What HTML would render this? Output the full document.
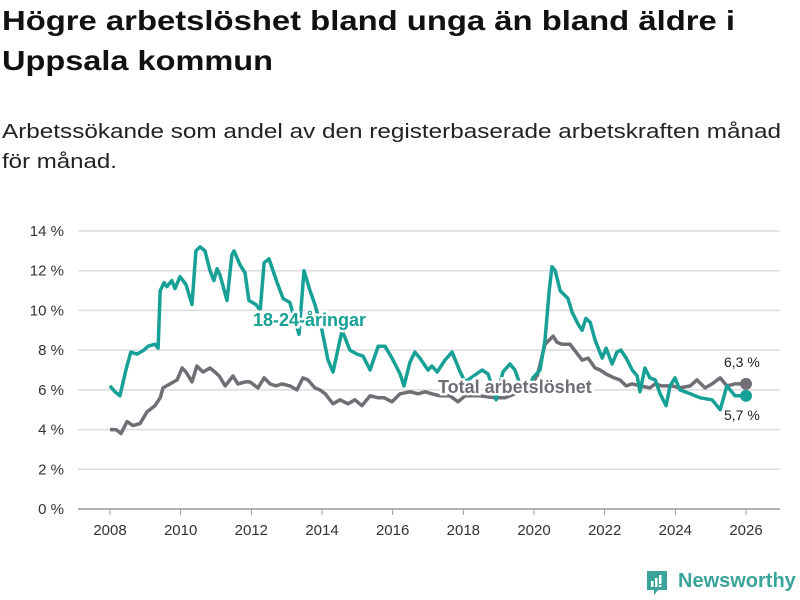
<!DOCTYPE html>
<html><head><meta charset="utf-8">
<style>
body{margin:0;background:#fff;font-family:"Liberation Sans","DejaVu Sans",sans-serif;}
#wrap{position:relative;width:800px;height:600px;overflow:hidden;}
.ln{position:absolute;left:2px;white-space:nowrap;transform-origin:0 0;margin:0;}
.t{font-size:28px;font-weight:bold;color:#111;}
.s{font-size:20px;color:#222;}
</style></head>
<body><div id="wrap">
<div>
<span class="ln t" data-tw="733" style="top:5px">Högre arbetslöshet bland unga än bland äldre i</span>
<span class="ln t" data-tw="271" style="top:45px">Uppsala kommun</span>
</div>
<div>
<span class="ln s" data-tw="779" style="top:121px">Arbetssökande som andel av den registerbaserade arbetskraften månad</span>
<span class="ln s" data-tw="115" style="top:151px">för månad.</span>
</div>
<svg id="chart" width="800" height="600" style="position:absolute;left:0;top:0"></svg>
<div style="position:absolute;left:645px;top:570px;">
<svg width="24" height="26" style="position:absolute;left:0;top:0"><path d="M2 1h20v19h-9l-4 5v-5H2z" fill="#3aa39a"/><rect x="6" y="11" width="2.5" height="6" fill="#fff"/><rect x="10" y="8" width="2.5" height="9" fill="#fff"/><rect x="14" y="5" width="2.5" height="9" fill="#fff"/><rect x="14" y="15" width="2.5" height="2" fill="#fff"/></svg>
<span style="position:absolute;left:33px;top:0px;font-size:20px;font-weight:bold;color:#3aa39a;">Newsworthy</span></div>
</div>
<script>
document.querySelectorAll('[data-tw]').forEach(e=>{const w=e.getBoundingClientRect().width;e.style.transform='scaleX('+(+e.getAttribute('data-tw')/w)+')';});
const yTicks=[0,2,4,6,8,10,12,14];
const xTicks=[2008,2010,2012,2014,2016,2018,2020,2022,2024,2026];
const youthDates=[2008.00,2008.14,2008.28,2008.45,2008.59,2008.76,2008.96,2009.08,2009.27,2009.36,2009.42,2009.53,2009.61,2009.75,2009.84,2009.98,2010.15,2010.32,2010.43,2010.55,2010.69,2010.83,2010.94,2011.03,2011.11,2011.31,2011.45,2011.51,2011.68,2011.82,2011.93,2012.13,2012.25,2012.36,2012.50,2012.73,2012.90,2013.09,2013.24,2013.35,2013.49,2013.66,2013.80,2014.00,2014.17,2014.31,2014.57,2014.79,2014.99,2015.16,2015.36,2015.59,2015.78,2015.98,2016.21,2016.32,2016.49,2016.63,2016.77,2017.00,2017.11,2017.26,2017.48,2017.68,2017.91,2018.05,2018.53,2018.70,2018.81,2018.93,2019.12,2019.32,2019.46,2019.60,2019.83,2019.97,2020.17,2020.31,2020.43,2020.51,2020.60,2020.74,2020.85,2020.96,2021.08,2021.25,2021.36,2021.47,2021.59,2021.73,2021.93,2022.04,2022.21,2022.35,2022.46,2022.61,2022.78,2022.92,2023.00,2023.14,2023.28,2023.43,2023.57,2023.74,2023.85,2023.99,2024.13,2024.27,2024.42,2024.70,2025.04,2025.27,2025.46,2025.69,2026.00];
const youthValues=[6.2,5.9,5.7,7.0,7.9,7.8,8.0,8.2,8.3,8.1,11.0,11.4,11.2,11.5,11.1,11.7,11.3,10.3,13.0,13.2,13.0,12.0,11.5,12.1,11.8,10.5,12.8,13.0,12.3,11.9,10.5,10.3,10.0,12.4,12.6,11.4,10.6,10.4,9.5,8.8,12.0,11.0,10.3,9.0,7.5,6.9,9.0,8.0,7.8,7.7,7.0,8.2,8.2,7.6,6.8,6.2,7.4,7.9,7.6,7.0,7.2,6.9,7.5,7.9,6.9,6.4,7.0,6.8,6.2,5.5,6.9,7.3,7.0,6.3,6.0,6.6,7.0,8.5,11.0,12.2,12.0,11.0,10.8,10.6,9.9,9.3,9.0,9.6,9.4,8.5,7.6,8.1,7.3,7.9,8.0,7.6,7.0,6.7,5.9,7.1,6.6,6.5,5.8,5.2,6.2,6.6,6.0,5.9,5.8,5.6,5.5,5.0,6.2,5.7,5.7];
const totalDates=[2008.00,2008.17,2008.31,2008.48,2008.65,2008.85,2009.05,2009.27,2009.42,2009.50,2009.70,2009.90,2010.04,2010.15,2010.32,2010.46,2010.63,2010.83,2010.97,2011.09,2011.26,2011.48,2011.62,2011.82,2011.96,2012.19,2012.36,2012.53,2012.70,2012.87,2013.09,2013.29,2013.46,2013.60,2013.80,2013.94,2014.09,2014.31,2014.51,2014.74,2014.93,2015.13,2015.36,2015.59,2015.76,2015.98,2016.21,2016.49,2016.72,2016.92,2017.11,2017.34,2017.62,2017.85,2018.05,2018.47,2018.90,2019.18,2019.60,2019.89,2020.09,2020.31,2020.54,2020.65,2020.79,2021.02,2021.19,2021.36,2021.53,2021.73,2021.87,2022.04,2022.27,2022.43,2022.61,2022.78,2023.00,2023.28,2023.43,2023.62,2023.91,2024.13,2024.42,2024.61,2024.84,2025.04,2025.27,2025.46,2025.69,2026.00];
const totalValues=[4.0,4.0,3.8,4.4,4.2,4.3,4.9,5.2,5.6,6.1,6.3,6.5,7.1,6.9,6.4,7.2,6.9,7.1,6.9,6.7,6.2,6.7,6.3,6.4,6.4,6.1,6.6,6.3,6.2,6.3,6.2,6.0,6.6,6.5,6.1,6.0,5.8,5.3,5.5,5.3,5.5,5.2,5.7,5.6,5.6,5.4,5.8,5.9,5.8,5.9,5.8,5.7,5.7,5.4,5.7,5.7,5.6,5.6,5.9,6.2,6.7,8.3,8.7,8.4,8.3,8.3,7.9,7.5,7.6,7.1,7.0,6.8,6.6,6.5,6.2,6.3,6.2,6.1,6.3,6.2,6.2,6.1,6.2,6.5,6.1,6.3,6.6,6.2,6.3,6.3];
const svg=document.getElementById('chart');
const NS='http://www.w3.org/2000/svg';
const X0=78,X1=780,Y0=509,Y1=231;
function xs(d){return 110+(d-2008)*(746-110)/18;}
function ys(v){return Y0-(v/14)*(Y0-Y1);}
function mk(t,a){const e=document.createElementNS(NS,t);for(const k in a)e.setAttribute(k,a[k]);svg.appendChild(e);return e;}
yTicks.forEach(v=>{
 const l=mk('line',{x1:X0,x2:X1,y1:ys(v),y2:ys(v),stroke:v===0?'#999':'#dcdcdc','stroke-width':1.5});
 
 
 const t=mk('text',{x:64,y:ys(v)+5,'text-anchor':'end','font-size':15,fill:'#333','font-family':'Liberation Sans, sans-serif'});
 t.textContent=v+' %';
 
 
});
xTicks.forEach(d=>{
 const l=mk('line',{x1:xs(d),x2:xs(d),y1:Y0,y2:Y0+6,stroke:'#999','stroke-width':1});
 
 
 const t=mk('text',{x:xs(d),y:Y0+26,'text-anchor':'middle','font-size':15,fill:'#333','font-family':'Liberation Sans, sans-serif'});
 t.textContent=d;
 
 
});
function line(ds,vs,c,name){
 const p=ds.map((d,i)=>(i?'L':'M')+xs(d).toFixed(1)+' '+ys(vs[i]).toFixed(1)).join('');
 const e=mk('path',{d:p,fill:'none',stroke:c,'stroke-width':3.5,'stroke-linejoin':'round'});
 
 
 const n=ds.length-1;
 const c2=mk('circle',{cx:xs(ds[n]),cy:ys(vs[n]),r:6,fill:c});
 
 
}
const TEAL='#17a095',GRAY='#6f6e74';
line(totalDates,totalValues,GRAY,'total-line');
line(youthDates,youthValues,TEAL,'youth-line');
function lab(x,y,txt,c,name,size,bold){
 const t=mk('text',{x:x,y:y,'font-size':size,'font-weight':bold?'bold':'normal',fill:c,stroke:'#fff','stroke-width':bold?5:0,'paint-order':'stroke','font-family':'Liberation Sans, sans-serif'});
 t.textContent=txt;
 
 
}
lab(253,326,'18-24-åringar',TEAL,'youth-series-label',18,true);
lab(438,393,'Total arbetslöshet',GRAY,'total-series-label',18,true);
lab(724,367,'6,3 %','#222','total-end-value',14,false);
lab(724,420,'5,7 %','#222','youth-end-value',14,false);
</script>
</body></html>
